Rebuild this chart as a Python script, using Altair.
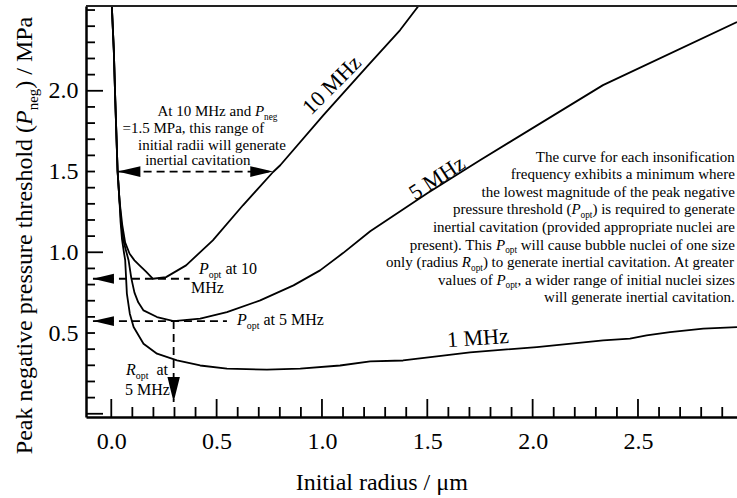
import altair as alt
import pandas as pd

# ---------------------------------------------------------------------------
# Inertial-cavitation threshold curves: initial bubble radius (um) against the
# peak negative pressure threshold (MPa) for three insonification frequencies.
# ---------------------------------------------------------------------------
R_1MHZ = [0.000, 0.012, 0.019, 0.030, 0.039, 0.044, 0.051, 0.060, 0.066, 0.074,
          0.088, 0.106, 0.153, 0.217, 0.312, 0.422, 0.549, 0.739, 0.897, 1.086,
          1.229, 1.385, 1.545, 1.703, 2.020, 2.335, 2.462, 2.541, 2.652, 2.810, 2.970]
P_1MHZ = [2.600, 2.250, 1.940, 1.500, 1.320, 1.190, 1.080, 1.000, 0.951, 0.744,
          0.620, 0.537, 0.434, 0.372, 0.330, 0.299, 0.279, 0.273, 0.279, 0.299,
          0.325, 0.330, 0.355, 0.380, 0.413, 0.454, 0.465, 0.485, 0.506, 0.527, 0.537]

R_5MHZ = [0.000, 0.012, 0.019, 0.030, 0.039, 0.048, 0.058, 0.070, 0.082, 0.095,
          0.110, 0.128, 0.153, 0.217, 0.296, 0.422, 0.549, 0.707, 0.865, 0.991,
          1.100, 1.229, 1.500, 1.750, 2.334, 2.970]
P_5MHZ = [2.600, 2.250, 1.940, 1.500, 1.320, 1.170, 1.070, 1.010, 0.951, 0.840,
          0.750, 0.690, 0.640, 0.599, 0.574, 0.589, 0.630, 0.702, 0.795, 0.888,
          0.995, 1.130, 1.365, 1.570, 2.035, 2.426]

R_10MHZ = [0.000, 0.012, 0.019, 0.030, 0.039, 0.052, 0.066, 0.087, 0.110, 0.134,
           0.165, 0.198, 0.260, 0.355, 0.482, 0.625, 0.768, 0.802, 1.007, 1.221,
           1.371, 1.458, 1.500]
P_10MHZ = [2.600, 2.250, 1.940, 1.500, 1.320, 1.170, 1.060, 0.991, 0.950, 0.919,
           0.880, 0.836, 0.846, 0.919, 1.074, 1.291, 1.497, 1.539, 1.849, 2.160,
           2.376, 2.525, 2.585]

FREQ_LABELS = ["1 MHz", "5 MHz", "10 MHz"]

# optimum points read from the minima of the 5 and 10 MHz curves
P_OPT_10 = 0.836
P_OPT_5 = 0.574
R_OPT_5 = 0.296
# 10 MHz threshold range at P_neg = 1.5 MPa
RANGE_P = 1.5
RANGE_R_LOW = 0.030
RANGE_R_HIGH = 0.768

X_MAJOR = [0.0, 0.5, 1.0, 1.5, 2.0, 2.5]
X_MINOR = [round(0.1 * i, 1) for i in range(30) if i % 5]
Y_MAJOR = [0.0, 1.0, 2.0]
Y_MINOR = [round(0.1 * i, 1) for i in range(26) if i % 10]
Y_LABELS = [0.5, 1.0, 1.5, 2.0]

# ---------------------------------------------------------------------------
# Layout
# ---------------------------------------------------------------------------
W, H = 651, 411
X_MIN, X_MAX = -0.12, 2.97
Y_MIN, Y_MAX = -0.02, 2.525
PX_PER_X = W / (X_MAX - X_MIN)
PX_PER_Y = H / (Y_MAX - Y_MIN)

SERIF = "Liberation Serif"
INK = "black"

x_scale = alt.Scale(domain=[X_MIN, X_MAX], nice=False, zero=False)
y_scale = alt.Scale(domain=[Y_MIN, Y_MAX], nice=False, zero=False)

x_axis = alt.Axis(values=X_MAJOR, format=".1f", title=None, grid=False,
                  ticks=False, tickSize=0, labelFont=SERIF, labelFontSize=24,
                  labelColor=INK, labelPadding=12, labelFlush=False,
                  labelOverlap=False, domainColor=INK, domainWidth=2.5)
y_axis = alt.Axis(values=Y_LABELS, format=".1f", title=None, grid=False,
                  ticks=False, tickSize=0, labelFont=SERIF, labelFontSize=24,
                  labelColor=INK, labelPadding=8, labelFlush=False,
                  labelOverlap=False, domainColor=INK, domainWidth=2.5)


def X(field):
    return alt.X(field, type="quantitative", scale=x_scale, axis=x_axis)


def Y(field):
    return alt.Y(field, type="quantitative", scale=y_scale, axis=y_axis)


# ---------------------------------------------------------------------------
# Rich text: lines made of normal, italic and subscript runs (Times metrics)
# ---------------------------------------------------------------------------
ADV = {" ": 250, ".": 250, ",": 250, "(": 333, ")": 333, "/": 278, "=": 564,
       "-": 333, "μ": 576,
       "a": 444, "b": 500, "c": 444, "d": 500, "e": 444, "f": 333, "g": 500,
       "h": 500, "i": 278, "j": 278, "k": 500, "l": 278, "m": 778, "n": 500,
       "o": 500, "p": 500, "q": 500, "r": 333, "s": 389, "t": 278, "u": 500,
       "v": 500, "w": 722, "x": 500, "y": 500, "z": 444,
       "A": 722, "H": 722, "I": 333, "M": 889, "P": 556, "R": 667, "T": 611}
ADV_ITALIC = {"P": 611, "R": 611}
SUB = 0.62


def text_px(s, size, italic=False):
    table = {**ADV, **ADV_ITALIC} if italic else ADV
    return sum(table.get(c, 500) for c in s) * size / 1000.0


def rich(parts, x, y, size, align="left", angle=0):
    sizes = [size * SUB if k == "s" else size for _, k in parts]
    widths = [text_px(t, fs, k == "i") for (t, k), fs in zip(parts, sizes)]
    total = sum(widths)
    cursor = {"left": 0.0, "center": -total / 2.0, "right": -total}[align]
    along, down = ((1, 0), (0, 1)) if angle == 0 else ((0, -1), (1, 0))
    rows = []
    for (t, k), fs, w in zip(parts, sizes, widths):
        lead = text_px(t[: len(t) - len(t.lstrip(" "))], fs)
        drop = size * 0.25 if k == "s" else 0.0
        px = (cursor + lead) * along[0] + drop * down[0]
        py = (cursor + lead) * along[1] + drop * down[1]
        if t.strip():
            rows.append({"x": x + px / PX_PER_X, "y": y - py / PX_PER_Y,
                         "text": t.strip(), "fs": fs, "italic": k == "i",
                         "angle": angle})
        cursor += w
    return rows


NOTE_RANGE = [
    [("At 10 MHz and ", "n"), ("P", "i"), ("neg", "s")],
    [("=1.5 MPa, this range of", "n")],
    [("initial radii will generate", "n")],
    [("inertial cavitation", "n")],
]
NOTE_RANGE_POS = [(0.504, 1.844), (0.390, 1.741), (0.478, 1.633), (0.411, 1.540)]

NOTE_BLOCK = [
    [("The curve for each insonification", "n")],
    [("frequency exhibits a minimum where", "n")],
    [("the lowest magnitude of the peak negative", "n")],
    [("pressure threshold (", "n"), ("P", "i"), ("opt", "s"), (") is required to generate", "n")],
    [("inertial cavitation (provided appropriate nuclei are", "n")],
    [("present). This ", "n"), ("P", "i"), ("opt", "s"), (" will cause bubble nuclei of one size", "n")],
    [("only (radius ", "n"), ("R", "i"), ("opt", "s"), (") to generate inertial cavitation. At greater", "n")],
    [("values of ", "n"), ("P", "i"), ("opt", "s"), (", a wider range of initial nuclei sizes", "n")],
    [("will generate inertial cavitation.", "n")],
]
BLOCK_SIZE = 15
BLOCK_LEAD_PX = 17.6

rows = []
for parts, (cx, cy) in zip(NOTE_RANGE, NOTE_RANGE_POS):
    rows += rich(parts, cx, cy, 15, align="center")
for i, parts in enumerate(NOTE_BLOCK):
    rows += rich(parts, 2.96, 1.562 - i * BLOCK_LEAD_PX / PX_PER_Y, BLOCK_SIZE,
                 align="right")
rows += rich([("P", "i"), ("opt", "s"), (" at 10", "n")], 0.416, 0.866, 16)
rows += rich([("MHz", "n")], 0.378, 0.748, 16)
rows += rich([("P", "i"), ("opt", "s"), (" at 5 MHz", "n")], 0.597, 0.550, 16)
rows += rich([("R", "i"), ("opt", "s"), ("  at", "n")], 0.070, 0.240, 16)
rows += rich([("5 MHz", "n")], 0.065, 0.116, 16)
# axis titles
rows += rich([("Peak negative pressure threshold (", "n"), ("P", "i"), ("neg", "s"),
              (") / MPa", "n")], -0.376, 1.104, 24, align="center", angle=270)
rows += rich([("Initial radius / μm", "n")], 1.286, -0.472, 24, align="center")
text_df = pd.DataFrame(rows)

# ---------------------------------------------------------------------------
# Layers
# ---------------------------------------------------------------------------
curves = pd.concat([
    pd.DataFrame({"r": R_1MHZ, "p": P_1MHZ, "freq": FREQ_LABELS[0]}),
    pd.DataFrame({"r": R_5MHZ, "p": P_5MHZ, "freq": FREQ_LABELS[1]}),
    pd.DataFrame({"r": R_10MHZ, "p": P_10MHZ, "freq": FREQ_LABELS[2]}),
])
curves["i"] = range(len(curves))

curve_layer = alt.Chart(curves).mark_line(
    color=INK, strokeWidth=1.8, clip=True, strokeJoin="round"
).encode(x=X("r"), y=Y("p"), detail="freq:N", order="i:Q")

# curve labels placed along each curve
curve_labels = pd.DataFrame({
    "text": ["10 MHz", "5 MHz", "1 MHz"],
    "x": [1.047, 1.546, 1.740],
    "y": [2.036, 1.460, 0.469],
    "angle": [315, 327, 356],
})
curve_label_layer = alt.Chart(curve_labels).mark_text(
    font=SERIF, fontSize=22, color=INK, align="center", baseline="middle"
).encode(x=X("x"), y=Y("y"), text="text:N",
         angle=alt.Angle("angle:Q", scale=None))

# dashed guide lines
guides = pd.DataFrame({
    "x": [RANGE_R_LOW, X_MIN + 0.033, X_MIN + 0.033, R_OPT_5],
    "x2": [RANGE_R_HIGH, 0.372, 0.549, R_OPT_5],
    "y": [RANGE_P, P_OPT_10, P_OPT_5, P_OPT_5],
    "y2": [RANGE_P, P_OPT_10, P_OPT_5, 0.073],
})
guide_layer = alt.Chart(guides).mark_rule(
    color=INK, strokeWidth=1.8, strokeDash=[8, 5]
).encode(x=X("x"), x2="x2:Q", y=Y("y"), y2="y2:Q")

# arrowheads: custom symbols with the tip at the symbol origin
LEFT = "M0,0L2,-0.47L2,0.47Z"
RIGHT = "M0,0L-2,-0.47L-2,0.47Z"
DOWN = "M0,0L-0.5,-2L0.5,-2Z"
heads = pd.DataFrame({
    "x": [RANGE_R_LOW, RANGE_R_HIGH, X_MIN + 0.033, X_MIN + 0.033, R_OPT_5],
    "y": [RANGE_P, RANGE_P, P_OPT_10, P_OPT_5, 0.073],
    "shape": [LEFT, RIGHT, LEFT, LEFT, DOWN],
    "size": [520, 520, 440, 440, 620],
})
head_layer = alt.Chart(heads).mark_point(
    filled=True, opacity=1, color=INK, strokeWidth=0
).encode(x=X("x"), y=Y("y"), shape=alt.Shape("shape:N", scale=None),
         size=alt.Size("size:Q", scale=None))


# inward-pointing ticks
def x_ticks(values, length):
    return alt.Chart(pd.DataFrame({"v": values})).mark_rule(
        color=INK, strokeWidth=1.8
    ).encode(x=X("v"), y=alt.value(H), y2=alt.value(H - length))


def y_ticks(values, length):
    return alt.Chart(pd.DataFrame({"v": values})).mark_rule(
        color=INK, strokeWidth=1.8
    ).encode(y=Y("v"), x=alt.value(0), x2=alt.value(length))


frame_top = alt.Chart(pd.DataFrame({"v": [0]})).mark_rule(
    color="#222", strokeWidth=2
).encode(x=alt.value(0), x2=alt.value(W), y=alt.value(0))

text_normal = alt.Chart(text_df[~text_df["italic"]]).mark_text(
    font=SERIF, color=INK, align="left", baseline="alphabetic"
).encode(x=X("x"), y=Y("y"), text="text:N",
         size=alt.Size("fs:Q", scale=None),
         angle=alt.Angle("angle:Q", scale=None))
text_italic = alt.Chart(text_df[text_df["italic"]]).mark_text(
    font=SERIF, fontStyle="italic", color=INK, align="left", baseline="alphabetic"
).encode(x=X("x"), y=Y("y"), text="text:N",
         size=alt.Size("fs:Q", scale=None),
         angle=alt.Angle("angle:Q", scale=None))

chart = alt.layer(
    curve_layer,
    x_ticks(X_MAJOR, 18), x_ticks(X_MINOR, 10),
    y_ticks(Y_MAJOR, 17), y_ticks(Y_MINOR, 9),
    frame_top,
    guide_layer, head_layer,
    curve_label_layer, text_normal, text_italic,
).properties(
    width=W, height=H,
    autosize=alt.AutoSizeParams(type="none"),
    padding={"left": 86, "top": 6, "right": 0, "bottom": 81},
    background="white",
).configure_view(
    stroke=None
).configure_axis(
    labelFont=SERIF, labelFontSize=24, labelColor=INK
).configure_text(
    font=SERIF
)

chart.save("out.html", embed_options={"renderer": "svg", "actions": False})
